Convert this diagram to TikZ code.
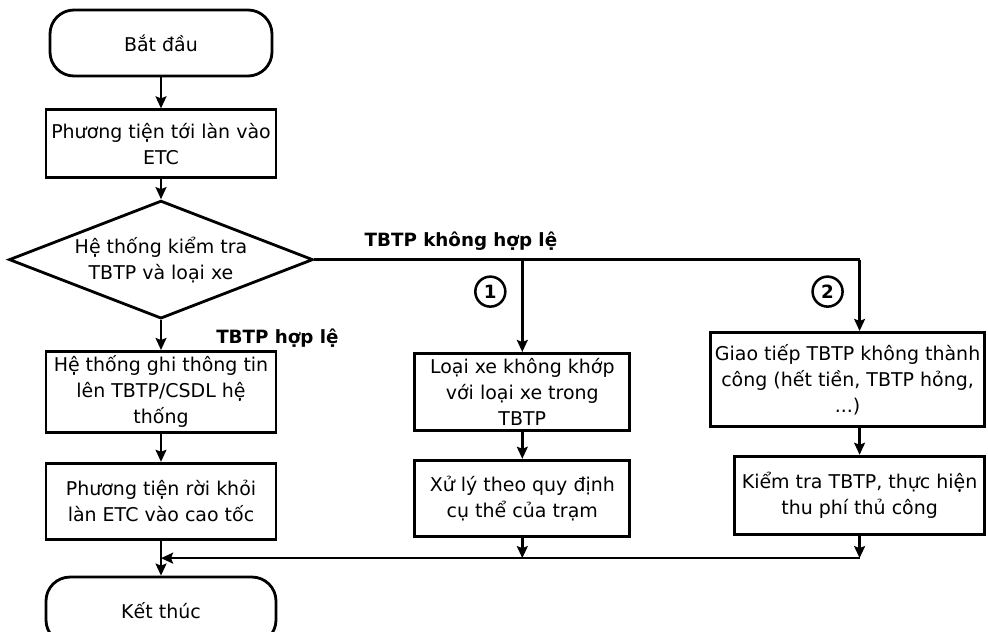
\documentclass[tikz,border=0pt]{standalone}
\usepackage{fontspec}
\setmainfont{DejaVu Sans}
\usepackage{tikz}
\usetikzlibrary{arrows.meta,positioning,calc,shapes.geometric}
\tikzset{
  term/.style={rectangle,rounded corners=6mm,draw=black,line width=2pt,
               minimum width=57.5mm,minimum height=16.5mm,align=center,inner sep=1mm},
  proc/.style={rectangle,draw=black,line width=2pt,minimum width=57.5mm,
               minimum height=19mm,align=center,inner sep=1mm},
  dec/.style={diamond,draw=black,line width=2pt,aspect=2.58,minimum width=76mm,
              minimum height=29.5mm,align=center,inner sep=0pt},
  num/.style={circle,draw=black,line width=1.8pt,minimum size=7.5mm,inner sep=0pt,
              font=\fontsize{13}{18}\selectfont\bfseries},
  lbl/.style={inner sep=0pt,font=\fontsize{13}{18}\selectfont\bfseries},
  flow/.style={-{Stealth[length=3mm,width=2.7mm,inset=0.5mm]},line width=1.8pt},
  wire/.style={line width=1.8pt},
}

\begin{document}
\begin{tikzpicture}[font=\fontsize{13.5}{18.5}\selectfont]
  \useasboundingbox (0,0) rectangle (247mm,-158mm);
  % main column
  \node[term,minimum width=55.5mm] (start) at (40.25mm,-10.75mm) {Bắt đầu};
  \node[proc,minimum height=17mm,below=7.75mm of start] (arrive) {Phương tiện tới làn vào\\ETC};
  \node[dec,below=5mm of arrive] (check) {Hệ thống kiểm tra\\TBTP và loại xe};
  \node[proc,minimum height=20.25mm,below=7.5mm of check] (record) {Hệ thống ghi thông tin\\lên TBTP/CSDL hệ\\thống};
  \node[proc,below=7mm of record] (leave) {Phương tiện rời khỏi\\làn ETC vào cao tốc};
  \node[term,minimum height=16.75mm,below=8.75mm of leave] (finish) {Kết thúc};
  % branches
  \node[proc,minimum width=53.75mm,minimum height=19.25mm,right=34mm of record] (mismatch) {Loại xe không khớp\\với loại xe trong\\TBTP};
  \node[proc,minimum width=53.75mm,below=6.75mm of mismatch] (station) {Xử lý theo quy định\\cụ thể của trạm};
  \node[proc,inner xsep=0.2mm,minimum width=68.5mm,minimum height=23.5mm,anchor=north east] (fail) at (246.5mm,-82.75mm) {Giao tiếp TBTP không thành\\công (hết tiền, TBTP hỏng,\\...)};
  \node[proc,minimum width=62.5mm,minimum height=19.5mm,below=6.75mm of fail.south east,anchor=north east] (manual) {Kiểm tra TBTP, thực hiện\\thu phí thủ công};
  \coordinate (split1) at (check.east -| mismatch.north);
  \coordinate (split2) at (check.east -| manual.north);
  \coordinate (merge) at ($(leave.south)!0.5!(finish.north)$);
  % connectors
  \draw[flow] (start) -- (arrive);
  \draw[flow] (arrive) -- (check);
  \draw[flow] (check) -- (record);
  \draw[flow] (record) -- (leave);
  \draw[flow] (leave) -- (finish);
  \draw[wire] (check.east) -- (split2);
  \draw[flow] (split1) -- (mismatch);
  \draw[flow] (split2) -- (fail.north -| split2);
  \draw[flow] (mismatch) -- (station);
  \draw[flow] (fail.south -| manual.north) -- (manual);
  \draw[flow] (station) -- (station |- merge);
  \draw[flow] (manual) -- (manual |- merge);
  \draw[flow] (manual |- merge) -- (merge);
  % labels
  \node[num] (one) at ($(split1)+(-8mm,-8mm)$) {1};
  \node[num] (two) at ($(split2)+(-8mm,-8mm)$) {2};
  \node[lbl,above right=2.25mm and 12.5mm of check.east] (invalid) {TBTP không hợp lệ};
  \node[lbl,below right=2.25mm and 13.75mm of check.south] (valid) {TBTP hợp lệ};
\end{tikzpicture}
\end{document}
